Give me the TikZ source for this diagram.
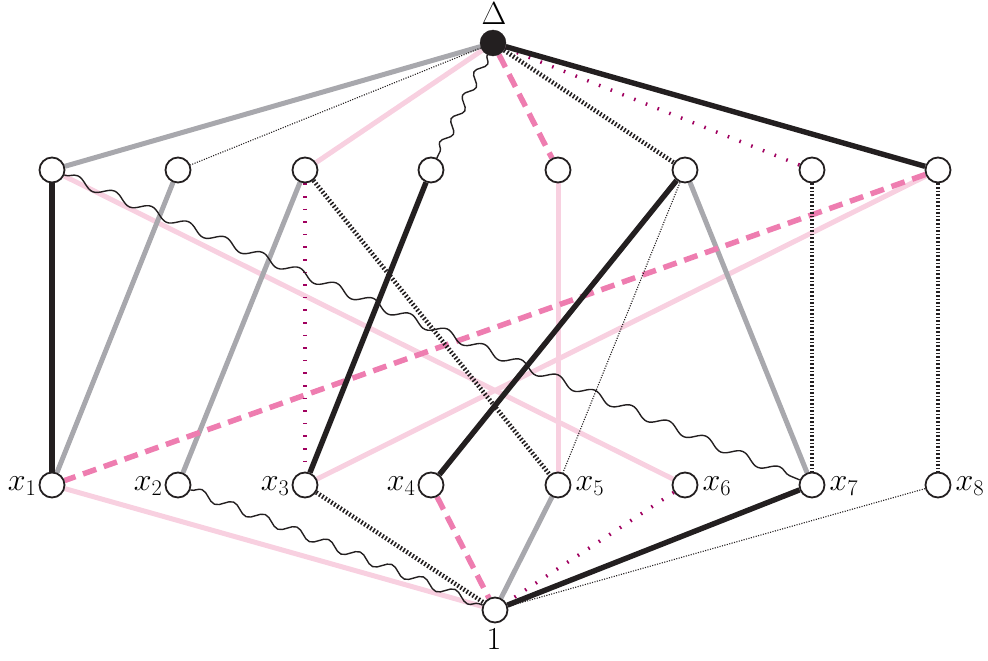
\documentclass[tikz,border=0pt]{standalone}
\usepackage{fix-cm}
\usetikzlibrary{decorations.pathmorphing}
\definecolor{ink}{RGB}{35,31,32}
\definecolor{grayc}{RGB}{168,168,173}
\definecolor{lpink}{RGB}{248,208,224}
\definecolor{hpink}{RGB}{238,125,176}
\definecolor{purp}{RGB}{160,0,95}
\pgfdeclarelayer{edges}
\pgfsetlayers{edges,main}
\begin{document}
\begin{tikzpicture}[x=1pt,y=-1pt,
 vtx/.style={circle,draw=ink,fill=white,line width=1.8pt,minimum size=25pt,inner sep=0pt},
 topv/.style={circle,fill=ink,draw=ink,minimum size=26pt,inner sep=0pt},
 eblack/.style={draw=ink,line width=5.4pt},
 egray/.style={draw=grayc,line width=5pt},
 elpink/.style={draw=lpink,line width=5pt},
 ehpink/.style={draw=hpink,line width=5.5pt,dash pattern=on 14pt off 8pt},
 edense/.style={draw=ink,line width=4.5pt,dash pattern=on 1.6pt off 2pt},
 epurp/.style={draw=purp,line width=3.5pt,dash pattern=on 1.6pt off 11pt},
 ethin/.style={draw=ink,line width=1.1pt,dash pattern=on 1.1pt off 1.4pt},
 ewave/.style={draw=ink,line width=1.4pt,decorate,decoration={snake,amplitude=4.5pt,segment length=#1}},
 ewave/.default=34pt,
 lbl/.style={font=\fontsize{32}{38}\selectfont}
]
\useasboundingbox (0,0) rectangle (988,661);
% nodes
\node[topv] (d) at (493,43) {};
\foreach \i/\x in {1/52,2/178,3/305,4/431,5/558,6/685,7/812,8/938}{
  \node[vtx] (t\i) at (\x,170) {};
  \node[vtx] (b\i) at (\x,485) {};
}
\node[vtx] (one) at (495,610) {};
% labels
\node[lbl,inner sep=0pt] (ldelta) at (494,14) {$\Delta$};
\node[lbl,inner sep=0pt] (lone) at (494,639) {$1$};
\foreach \i in {1,2,3,4}{
  \node[lbl,anchor=east,inner sep=1pt] (lx\i) at ([xshift=-1pt,yshift=-1pt]b\i.west) {$x_\i$};
}
\foreach \i in {5,6,7,8}{
  \node[lbl,anchor=west,inner sep=1pt] (lx\i) at ([xshift=3pt,yshift=-1pt]b\i.east) {$x_\i$};
}
\begin{pgfonlayer}{edges}
% light pink
\path[elpink] (d) -- (t3);
\path[elpink] (t1) -- (b6);
\path[elpink] (t5) -- (b5);
\path[elpink] (t8) -- (b3);
\path[elpink] (b1) -- (one);
% gray
\path[egray] (d) -- (t1);
\path[egray] (t2) -- (b1);
\path[egray] (t3) -- (b2);
\path[egray] (t6) -- (b7);
\path[egray] (b5) -- (one);
% hot pink dashed
\path[ehpink] (d) -- (t5);
\path[ehpink] (t8) -- (b1);
\path[ehpink] (b4) -- (one);
% purple dotted
\path[epurp] (d) -- (t7);
\path[epurp] (t3) -- (b3);
\path[epurp] (b6) -- (one);
% dense black
\path[edense] (d) -- (t6);
\path[edense] (t3) -- (b5);
\path[edense] (t7) -- (b7);
\path[edense] (t8) -- (b8);
\path[edense] (b3) -- (one);
% thin dotted
\path[ethin] (d) -- (t2);
\path[ethin] (t6) -- (b5);
\path[ethin] (b8) -- (one);
% wavy
\path[ewave=26pt] (d) -- (t4);
\path[ewave=40pt] (t1) -- (b7);
\path[ewave=34pt] (b2) -- (one);
% black solid
\path[eblack] (d) -- (t8);
\path[eblack] (t1) -- (b1);
\path[eblack] (t4) -- (b3);
\path[eblack] (t6) -- (b4);
\path[eblack] (b7) -- (one);
\end{pgfonlayer}
\end{tikzpicture}
\end{document}
